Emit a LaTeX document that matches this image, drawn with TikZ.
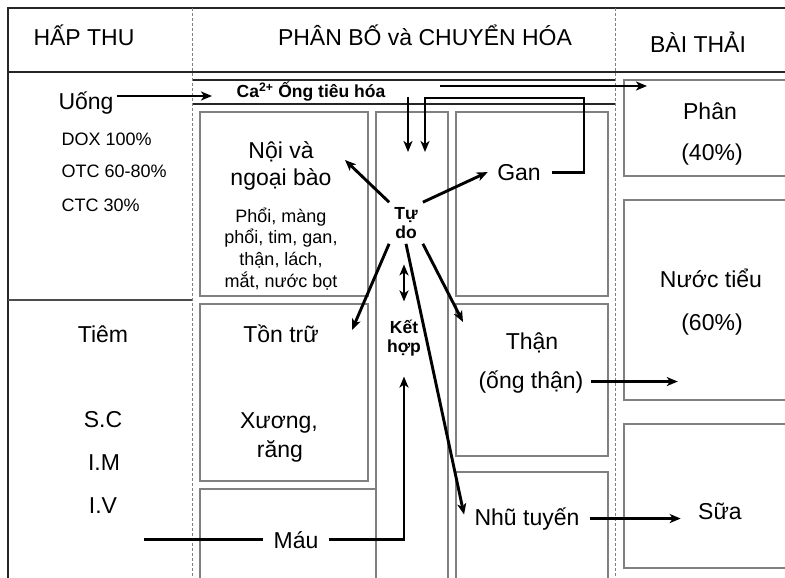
\documentclass[tikz,border=0pt]{standalone}
\usepackage{fontspec}
\setmainfont{Liberation Sans}
\usetikzlibrary{arrows.meta}

\begin{document}
\begin{tikzpicture}[
  x=1pt, y=-1pt,
  frame/.style={draw=black!85, line width=1.3pt},
  sep/.style={draw=gray, line width=1pt, dash pattern=on 3pt off 2pt},
  box/.style={draw=gray, line width=1.2pt},
  arr/.style={-{Stealth[length=11pt,width=9pt,inset=3pt]}, line width=2.9pt},
  dbl/.style={{Stealth[length=11pt,width=9pt,inset=3pt]}-{Stealth[length=11pt,width=9pt,inset=3pt]}, line width=2.9pt},
  plain/.style={line width=2.9pt},
  hd/.style={font=\fontsize{23}{27}\selectfont, anchor=base},
  big/.style={font=\fontsize{23}{27}\selectfont, anchor=base},
  sm/.style={font=\fontsize{18}{22}\selectfont, anchor=base},
  bld/.style={font=\bfseries\fontsize{17.5}{19}\selectfont, align=center},
]
  \useasboundingbox (0,0) rectangle (785,578);

  % frame and columns
  \draw[frame] (8,578) -- (8,8) -- (785,8);
  \draw[frame] (8,72) -- (785,72);
  \draw[frame, draw=black!70, line width=1.1pt] (8,300) -- (192,300);
  \draw[frame, line width=1.1pt] (192,80) -- (615,80);
  \draw[frame, line width=1.1pt] (192,104) -- (615,104);
  \draw[sep] (192,8) -- (192,578);
  \draw[sep] (615,8) -- (615,578);

  % boxes
  \draw[box] (200,112) rectangle (368,296);
  \draw[box] (200,304) rectangle (368,481);
  \draw[box] (200,578) -- (200,489) -- (376,489);
  \draw[box] (376,578) -- (376,112) -- (448,112) -- (448,578);
  \draw[box] (456,112) rectangle (608,296);
  \draw[box] (456,304) rectangle (608,456);
  \draw[box] (456,578) -- (456,472) -- (608,472) -- (608,578);
  \draw[box] (785,80) -- (624,80) -- (624,176) -- (785,176);
  \draw[box] (785,200) -- (624,200) -- (624,400) -- (785,400);
  \draw[box] (785,424) -- (624,424) -- (624,568) -- (785,568);

  % headers
  \node[hd] (hapthu) at (84,46) {HẤP THU};
  \node[hd] (phanbo) at (425,46) {PHÂN BỐ và CHUYỂN HÓA};
  \node[hd] (baithai) at (698,53) {BÀI THẢI};

  % absorption
  \node[big] (uong) at (86,110) {Uống};
  \node[sm, anchor=base west] (dox) at (58,145) {DOX 100\%};
  \node[sm, anchor=base west] (otc) at (58,177) {OTC 60-80\%};
  \node[sm, anchor=base west] (ctc) at (58,211) {CTC 30\%};
  \node[big] (tiem) at (103,342) {Tiêm};
  \node[big] (sc) at (103,427) {S.C};
  \node[big] (im) at (104,470) {I.M};
  \node[big] (iv) at (103,513) {I.V};

  % distribution
  \node[bld, anchor=base] (ca) at (311,98) {Ca\textsuperscript{2+} Ống tiêu hóa};
  \node[big] (noi1) at (281,158) {Nội và};
  \node[big] (noi2) at (281,185) {ngoại bào};
  \foreach \t [count=\i] in {{Phổi, màng},{phổi, tim, gan,},{thận, lách,},{mắt, nước bọt}}
    \node[sm] (cq\i) at (281,200.3+21.7*\i) {\t};
  \node[big] (tontru) at (281,342) {Tồn trữ};
  \node[big] (xuong) at (279,428) {Xương,};
  \node[big] (rang) at (280,457) {răng};
  \node[big] (mau) at (296,548) {Máu};
  \node[bld, inner sep=5pt] (tudo) at (406,223) {Tự\\do};
  \node[bld] (kethop) at (404,338) {Kết\\hợp};
  \node[big] (gan) at (519,180) {Gan};
  \node[big] (than1) at (532,349) {Thận};
  \node[big] (than2) at (531,388) {(ống thận)};
  \node[big] (nhu) at (527,525) {Nhũ tuyến};

  % excretion
  \node[big] (phan1) at (710,119) {Phân};
  \node[big] (phan2) at (712,160) {(40\%)};
  \node[big] (nuoc1) at (711,287) {Nước tiểu};
  \node[big] (nuoc2) at (712,330) {(60\%)};
  \node[big] (sua) at (720,519) {Sữa};

  % free ends
  \coordinate (caIn) at (212,96);
  \coordinate (caOut) at (440,86);
  \coordinate (phanIn) at (647,86);
  \coordinate (caDown) at (408,97);
  \coordinate (tdIn) at (408,152);
  \coordinate (ganTop) at (584,98);
  \coordinate (tdIn2) at (425,152);
  \coordinate (noiIn) at (345,160);
  \coordinate (tonIn) at (352,330);
  \coordinate (thanIn) at (463,322);
  \coordinate (mauL) at (144,536);

  % connectors
  \draw[arr] ([yshift=14pt]uong.base east) -- (caIn);
  \draw[arr] (caOut) -- (phanIn);
  \draw[arr] (caDown) -- (tdIn);
  \draw[arr] ([xshift=8pt]gan.east) -| (ganTop) -| (tdIn2);
  \draw[arr] (tudo.north east) -- ([xshift=-6pt]gan.west);
  \draw[arr] (tudo.north west) -- (noiIn);
  \draw[arr] (tudo.south west) -- (tonIn);
  \draw[arr] (tudo.south east) -- (thanIn);
  \draw[arr] (tudo.south) -- ([xshift=-7pt,yshift=4pt]nhu.west);
  \draw[dbl] ([yshift=15pt]kethop.north) -- ++(0,-37);
  \draw[arr, shorten >=17pt] ([xshift=7pt]mau.east) -| (kethop.south);
  \draw[plain] (mau.west -| mauL) -- ([xshift=-7pt]mau.west);
  \draw[arr, shorten <=4pt] (than2.east) -- (than2.east -| nuoc2.west);
  \draw[arr, shorten <=7pt, shorten >=14pt] (nhu.east) -- (nhu.east -| sua.west);
\end{tikzpicture}
\end{document}
